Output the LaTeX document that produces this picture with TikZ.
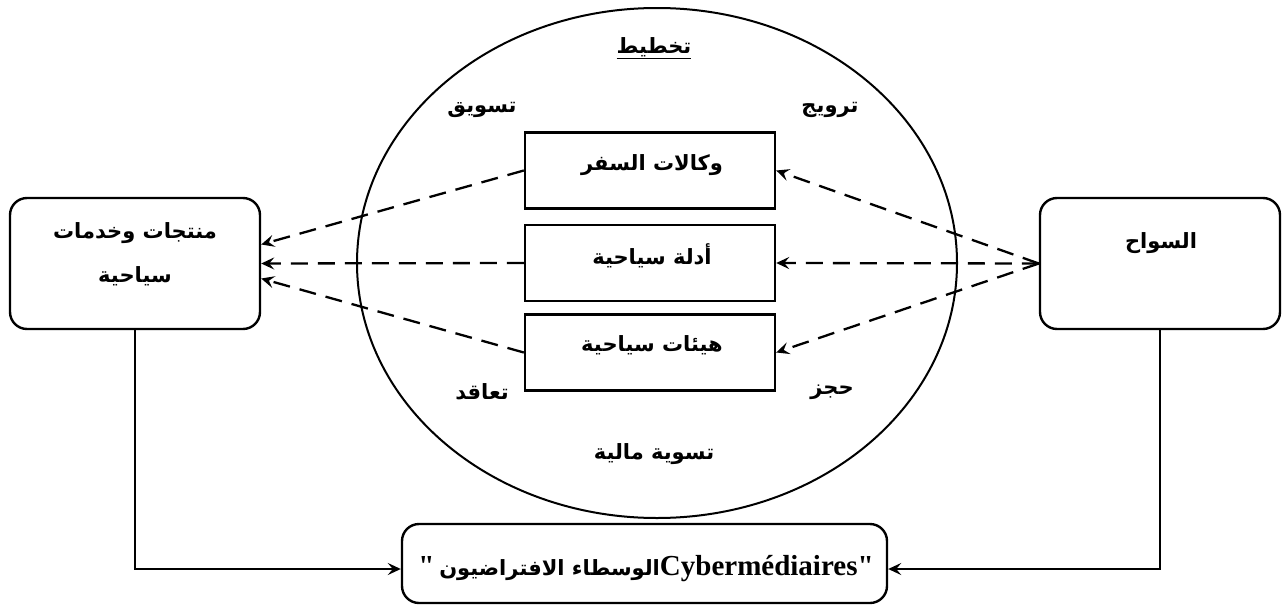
\documentclass[tikz,border=0pt]{standalone}
\usepackage{fontspec}
\setmainfont{Liberation Serif}[Ligatures=TeXOff]
\newfontfamily\arfont[Script=Arabic]{DejaVu Sans}
\TeXXeTstate=1
\usetikzlibrary{arrows.meta,shapes.geometric}
\begin{document}
\begin{tikzpicture}[x=1pt,y=-1pt,
  rbox/.style={draw, line width=2.4pt, rounded corners=17pt, inner sep=0pt},
  ibox/.style={draw, line width=2.4pt, inner sep=0pt, minimum width=250pt, minimum height=76pt},
  lbl/.style={font=\arfont\bfseries\fontsize{21}{44}\selectfont, inner sep=1pt, align=center},
  tip/.style={-{Stealth[length=13pt,width=12pt,inset=5pt]}},
  dashar/.style={line width=2.3pt, dash pattern=on 17pt off 10pt, tip},
  solidar/.style={line width=2.3pt, tip}]
\useasboundingbox (0,0) rectangle (1282,605);
% ellipse
\node[ellipse, draw, line width=2pt, minimum width=600pt, minimum height=510pt, inner sep=0pt] (ell) at (657,263) {};
% side boxes
\node[rbox, minimum width=250pt, minimum height=131pt] (prod) at (135,263.5) {};
\node[rbox, minimum width=240pt, minimum height=131pt] (tour) at (1160,263.5) {};
% inner boxes
\node[ibox] (b1) at (650,170.5) {};
\node[ibox] (b2) at (650,263) {};
\node[ibox] (b3) at (650,352.5) {};
% bottom box
\node[rbox, minimum width=485pt, minimum height=79pt] (bot) at (644.5,563.5) {};
% texts
\node[lbl] (tprod) at (135,254) {\beginR منتجات وخدمات\endR\\\beginR سياحية\endR};
\node[lbl] (ttour) at (1161,243) {\beginR السواح\endR};
\node[lbl] (t1) at (652,165) {\beginR وكالات السفر\endR};
\node[lbl] (t2) at (652,256) {\beginR أدلة سياحية\endR};
\node[lbl] (t3) at (652,345) {\beginR هيئات سياحية\endR};
\node[lbl] (plan) at (654,48) {\underline{\beginR تخطيط\endR}};
\node[lbl] (mark) at (482,110) {\beginR تسويق\endR};
\node[lbl] (promo) at (830,110) {\beginR ترويج\endR};
\node[lbl] (contr) at (482,392) {\beginR تعاقد\endR};
\node[lbl] (resv) at (832,392) {\beginR حجز\endR};
\node[lbl] (settle) at (654,454) {\beginR تسوية مالية\endR};
\node[inner sep=0pt] (tbot) at (646,569) {\fontsize{29}{30}\selectfont\bfseries "\,{\arfont\fontsize{21}{24}\selectfont\beginR الوسطاء الافتراضيون\endR}Cybermédiaires"};
% connectors
\draw[dashar] (tour.west) -- (b1.east);
\draw[dashar] (tour.west) -- (b2.east);
\draw[dashar] (tour.west) -- (b3.east);
\draw[dashar] (b1.west) -- ([yshift=19pt]prod.east);
\draw[dashar] (b2.west) -- (prod.east);
\draw[dashar] (b3.west) -- ([yshift=-15pt]prod.east);
\draw[solidar] (prod.south) |- ([yshift=-5.5pt]bot.west);
\draw[solidar] (tour.south) |- ([yshift=-5.5pt]bot.east);
\end{tikzpicture}
\end{document}
